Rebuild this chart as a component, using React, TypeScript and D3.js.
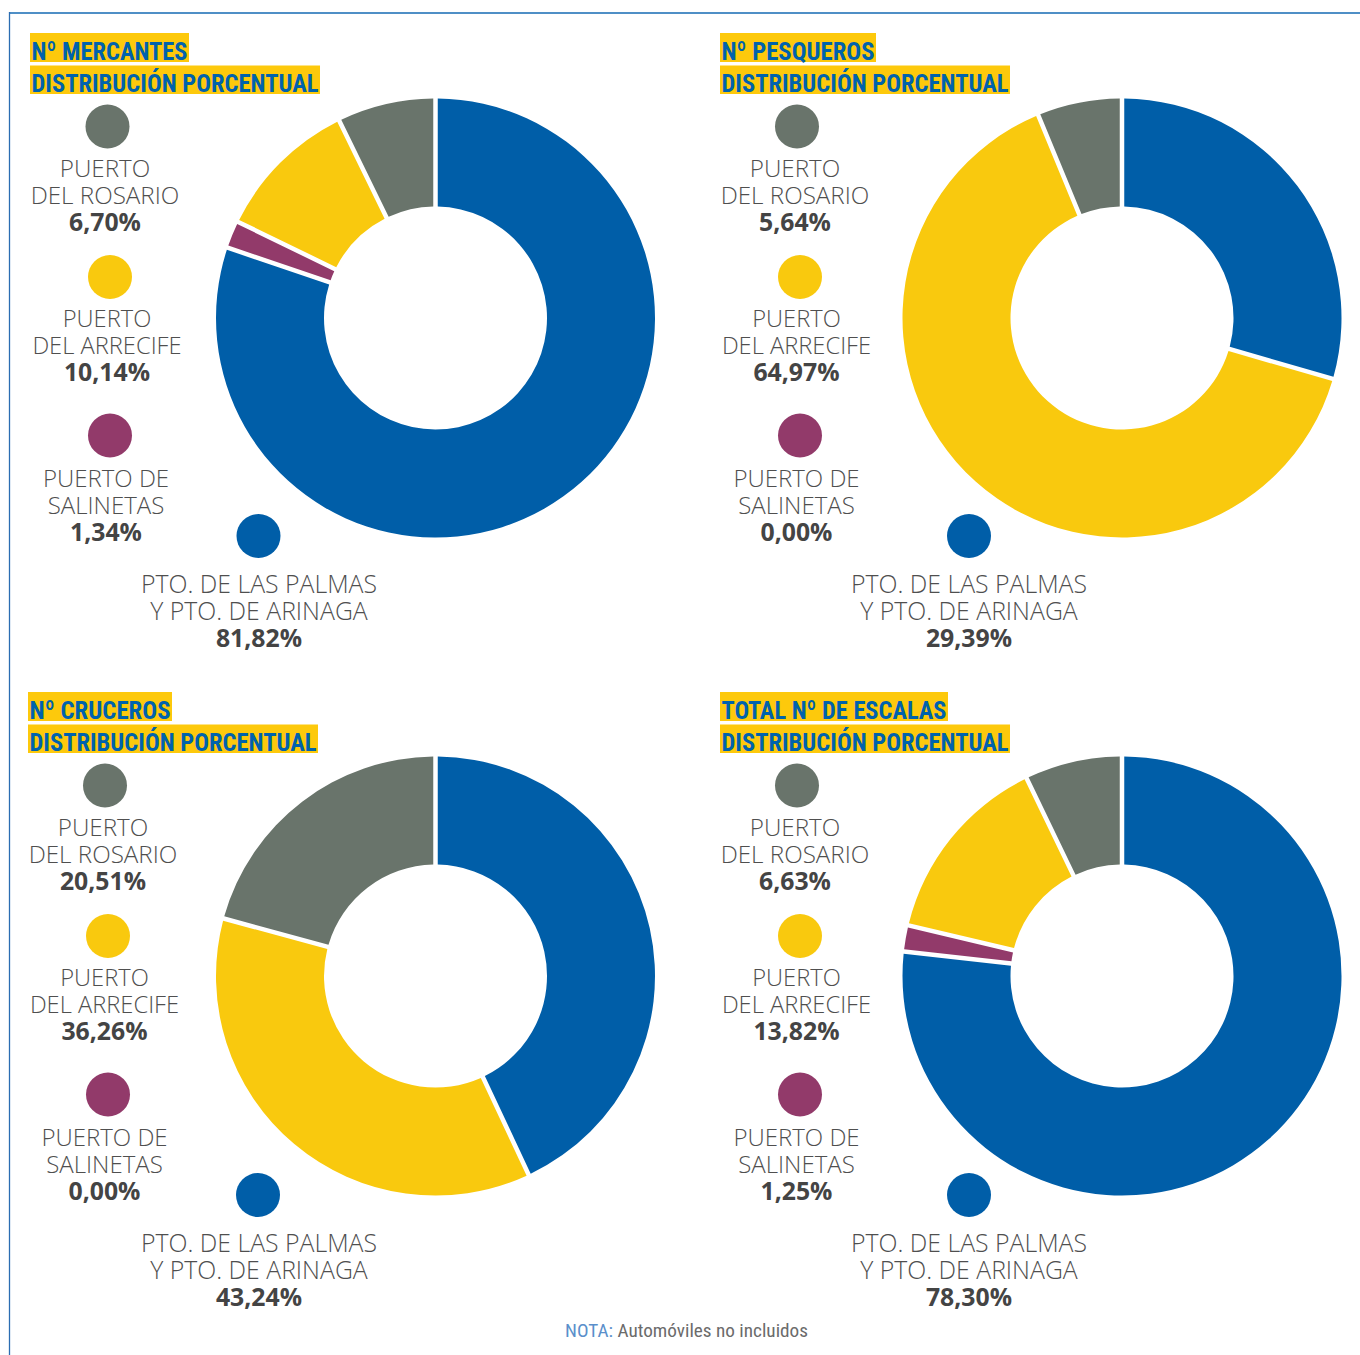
import React from "react";
import * as d3 from "d3";

// ---- data ----
const legendLabels: string[][] = [
  ["PUERTO", "DEL ROSARIO"],
  ["PUERTO", "DEL ARRECIFE"],
  ["PUERTO DE", "SALINETAS"],
  ["PTO. DE LAS PALMAS", "Y PTO. DE ARINAGA"],
];
const portKeys = ["rosario", "arrecife", "salinetas", "laspalmas"];
const portColors = ["#69746b", "#f9c90e", "#923a6a", "#005ea8"];

const mercantes = [6.70, 10.14, 1.34, 81.82];
const pesqueros = [5.64, 64.97, 0.00, 29.39];
const cruceros = [20.51, 36.26, 0.00, 43.24];
const totalEscalas = [6.63, 13.82, 1.25, 78.30];

const titles1 = ["Nº MERCANTES", "Nº PESQUEROS", "Nº CRUCEROS", "TOTAL Nº DE ESCALAS"];
const titles2 = ["DISTRIBUCIÓN PORCENTUAL", "DISTRIBUCIÓN PORCENTUAL", "DISTRIBUCIÓN PORCENTUAL", "DISTRIBUCIÓN PORCENTUAL"];
const panelValues = [mercantes, pesqueros, cruceros, totalEscalas];

// clockwise order from 12 o'clock
const pieOrder = [3, 2, 1, 0];

// ---- layout ----
const layouts = [
  { cx: 435.5, cy: 318, tx: 30, ty: 33, w1: 156, circX: [107.5, 110, 110, 258.5], textX: [105, 107, 106, 259], dy: 0 },
  { cx: 1122, cy: 318, tx: 720, ty: 33, w1: 153, circX: [797, 800, 800, 969], textX: [795, 796.5, 796.5, 969], dy: 0 },
  { cx: 435.5, cy: 976, tx: 28, ty: 692, w1: 141, circX: [105, 108, 108, 258], textX: [103, 104.5, 104.5, 259], dy: 659 },
  { cx: 1122, cy: 976, tx: 720, ty: 692, w1: 225, circX: [797, 800, 800, 969], textX: [795, 796.5, 796.5, 969], dy: 659 },
];
const circY = [126.5, 277, 435.5, 536];
const textDy = [50.5, 50, 51.5, 57];
const legendFont = [24.2, 23.7, 24, 24.8];
const lineH = 26.8;
const W2 = 287;

const outerR = 219.5;
const innerR = 111.5;

const narrow = "'Liberation Sans Narrow', 'Roboto Condensed', 'Arial Narrow', 'Liberation Sans', sans-serif";
const sans = "'Open Sans', 'Noto Sans', sans-serif";

function fmt(v: number) {
  return v.toFixed(2).replace(".", ",") + "%";
}

function Donut({ values, cx, cy }: { values: number[]; cx: number; cy: number }) {
  const data = pieOrder
    .map((i) => ({ i, v: values[i] }))
    .filter((d) => d.v > 0);
  const pie = d3
    .pie<{ i: number; v: number }>()
    .sort(null)
    .value((d) => d.v)
    .padAngle(0.045);
  const arc = d3
    .arc<d3.PieArcDatum<{ i: number; v: number }>>()
    .innerRadius(innerR)
    .outerRadius(outerR)
    .padRadius(100);
  const arcs = pie(data);
  return (
    <g transform={`translate(${cx},${cy})`}>
      {arcs.map((a) => (
        <path key={portKeys[a.data.i]} d={arc(a) || ""} fill={portColors[a.data.i]} />
      ))}
    </g>
  );
}

function Panel({ idx }: { idx: number }) {
  const L = layouts[idx];
  const values = panelValues[idx];
  return (
    <g>
      {/* title */}
      <rect x={L.tx} y={L.ty} width={L.w1 + 3} height={29} fill="#fdc90c" />
      <rect x={L.tx} y={L.ty + 32.5} width={W2 + 3} height={28.5} fill="#fdc90c" />
      <text
        x={L.tx + 1.5}
        y={L.ty + 27}
        fontFamily={narrow}
        fontWeight="bold"
        fontSize={26.5}
        fill="#0062ad"
        textLength={L.w1}
        lengthAdjust="spacingAndGlyphs"
      >
        {titles1[idx]}
      </text>
      <text
        x={L.tx + 1.5}
        y={L.ty + 58.5}
        fontFamily={narrow}
        fontWeight="bold"
        fontSize={26.5}
        fill="#0062ad"
        textLength={W2}
        lengthAdjust="spacingAndGlyphs"
      >
        {titles2[idx]}
      </text>
      <Donut values={values} cx={L.cx} cy={L.cy} />
      {/* legend */}
      {legendLabels.map((lines, k) => {
        const cyk = circY[k] + L.dy;
        const base = cyk + textDy[k];
        return (
          <g key={portKeys[k]}>
            <circle cx={L.circX[k]} cy={cyk} r={22} fill={portColors[k]} />
            {lines.map((ln, j) => (
              <text
                key={j}
                x={L.textX[k]}
                y={base + j * lineH}
                textAnchor="middle"
                fontFamily={sans}
                fontWeight={300}
                fontSize={legendFont[k]}
                fill="#4f4f4f"
              >
                {ln}
              </text>
            ))}
            <text
              x={L.textX[k]}
              y={base + lines.length * lineH}
              textAnchor="middle"
              fontFamily={sans}
              fontWeight={700}
              fontSize={24.8}
              fill="#444444"
            >
              {fmt(values[k])}
            </text>
          </g>
        );
      })}
    </g>
  );
}

export default function App() {
  return (
    <svg
      width={1360}
      height={1355}
      style={{ position: "absolute", left: 0, top: 0, display: "block", background: "#ffffff" }}
    >
      <rect x={0} y={0} width={1360} height={1355} fill="#ffffff" />
      <line x1={9} y1={13} x2={1360} y2={13} stroke="#4f8fc6" strokeWidth={2} />
      <line x1={9.5} y1={12} x2={9.5} y2={1355} stroke="#2b6db2" strokeWidth={1.3} />
      {[0, 1, 2, 3].map((i) => (
        <Panel key={i} idx={i} />
      ))}
      <text
        x={565}
        y={1337}
        fontFamily={narrow}
        fontSize={19}
        textLength={243}
        lengthAdjust="spacingAndGlyphs"
      >
        <tspan fill="#5a8fcb">NOTA:</tspan>
        <tspan fill="#6b6b6b"> Automóviles no incluidos</tspan>
      </text>
    </svg>
  );
}
